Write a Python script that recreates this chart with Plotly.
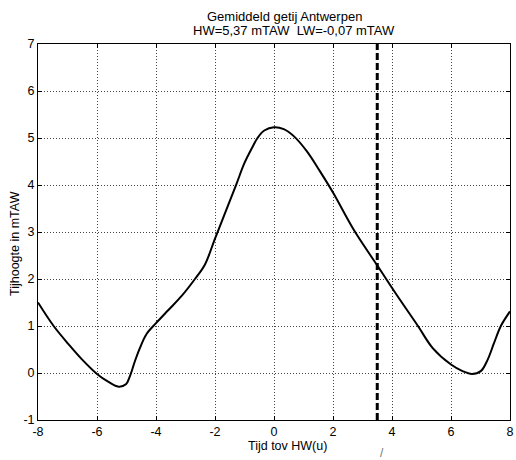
import plotly.graph_objects as go

# Tide curve (hours relative to HW, water level in mTAW)
tijd = [-8.0, -7.47, -6.96, -6.51, -6.0, -5.61, -5.27, -5.02, -4.88, -4.71, -4.54, -4.32,
        -4.0, -3.58, -3.13, -2.68, -2.34, -2.0, -1.66, -1.28, -1.0, -0.72, -0.56, -0.33,
        0.0, 0.33, 0.67, 1.11, 1.56, 2.0, 2.73, 3.52, 4.15, 4.88, 5.38, 6.0, 6.39, 6.71,
        7.01, 7.24, 7.46, 7.69, 8.0]
hoogte = [1.5, 1.0, 0.61, 0.29, -0.02, -0.19, -0.29, -0.24, -0.06, 0.26, 0.54, 0.83,
          1.06, 1.34, 1.64, 2.0, 2.31, 2.86, 3.4, 4.01, 4.47, 4.82, 5.0, 5.16,
          5.23, 5.19, 5.04, 4.72, 4.29, 3.84, 3.02, 2.27, 1.67, 1.0, 0.53, 0.18, 0.04, -0.02,
          0.04, 0.28, 0.64, 1.0, 1.31]

marker_x = [3.5, 3.5]
marker_y = [-1, 7]

x_ticks = [-8, -6, -4, -2, 0, 2, 4, 6, 8]
y_ticks = [-1, 0, 1, 2, 3, 4, 5, 6, 7]

font = "Liberation Sans, Arial, sans-serif"

fig = go.Figure()
fig.add_trace(go.Scatter(x=tijd, y=hoogte, mode="lines",
                         line=dict(color="black", width=2, shape="spline", smoothing=1.0),
                         showlegend=False, hoverinfo="skip"))
fig.add_trace(go.Scatter(x=marker_x, y=marker_y, mode="lines",
                         line=dict(color="black", width=3, dash="7px,3px"),
                         showlegend=False, hoverinfo="skip"))

axis_common = dict(showgrid=True, gridcolor="#444444", griddash="1px,2px", gridwidth=1,
                   zeroline=False, showline=True, linecolor="black", linewidth=1,
                   mirror="ticks", ticks="inside", ticklen=4, tickcolor="black",
                   ticklabeloverflow="allow",
                   tickfont=dict(family=font, size=12.5, color="black"))

fig.update_xaxes(range=[-8, 8], tickvals=x_ticks, ticktext=[str(v) for v in x_ticks], **axis_common)
fig.update_yaxes(range=[-1, 7], tickvals=y_ticks, ticktext=[str(v) for v in y_ticks], **axis_common)

fig.update_layout(
    width=516, height=460,
    margin=dict(l=38, r=2, t=44, b=40),
    paper_bgcolor="white", plot_bgcolor="white",
    font=dict(family=font, size=12.5, color="black"),
    annotations=[
        dict(text="Gemiddeld getij Antwerpen", xref="paper", yref="paper",
             x=0.522, y=1.0, yshift=28, showarrow=False, xanchor="center", yanchor="middle",
             font=dict(size=13)),
        dict(text="HW=5,37 mTAW  LW=-0,07 mTAW", xref="paper", yref="paper",
             x=0.542, y=1.0, yshift=14, showarrow=False, xanchor="center", yanchor="middle",
             font=dict(size=13)),
        dict(text="Tijd tov HW(u)", xref="paper", yref="paper",
             x=0.529, y=0, yshift=-26, showarrow=False, xanchor="center", yanchor="middle",
             font=dict(size=12.5)),
        dict(text="Tijhoogte in mTAW", xref="paper", yref="paper", textangle=-90,
             x=0, xshift=-23, y=0.5, yshift=-12, showarrow=False, xanchor="center",
             yanchor="middle", font=dict(size=12.5)),
        dict(text="/", xref="paper", yref="paper",
             x=0.729, y=0, yshift=-33, showarrow=False, xanchor="center", yanchor="middle",
             font=dict(size=12, color="#777777")),
    ],
)

fig.write_html("out.html", config={"displayModeBar": False},
               post_script="document.body.style.margin='0';")
